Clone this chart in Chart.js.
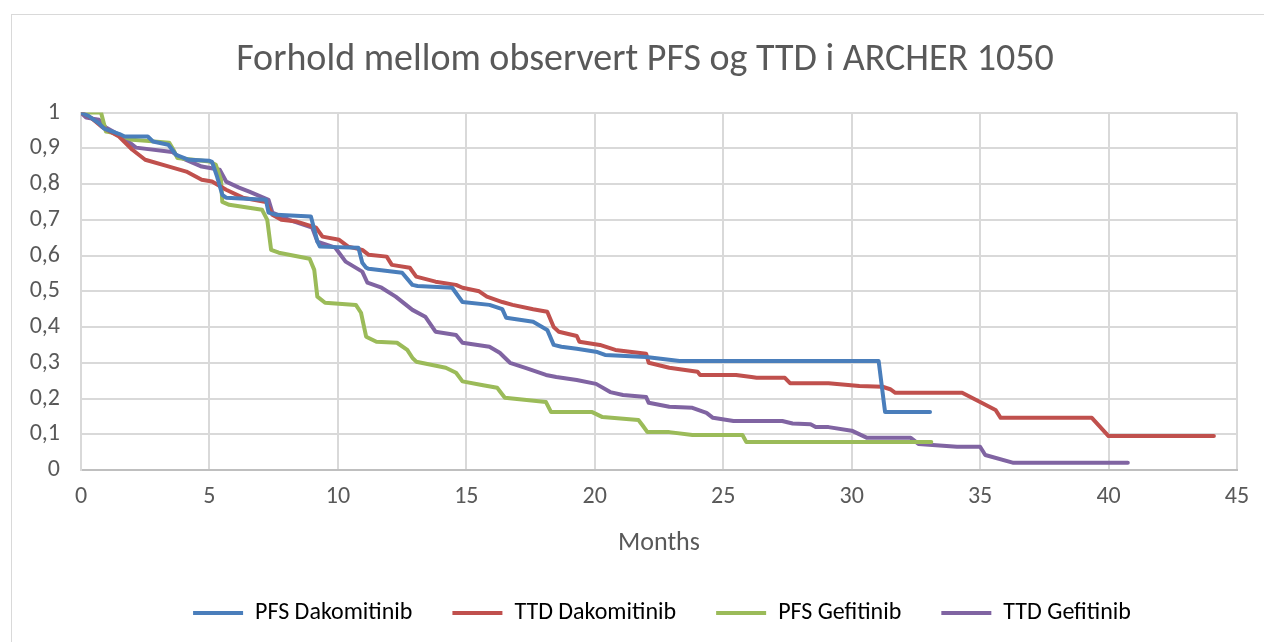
<!DOCTYPE html>
<html>
<head>
<meta charset="utf-8">
<script src="https://cdn.jsdelivr.net/npm/chart.js@4"></script>
<style>
html,body{margin:0;padding:0;background:#fff;}
#frame{position:absolute;left:11px;top:14px;width:1300px;height:700px;border:1px solid #d9d9d9;box-sizing:border-box;}
#wrap{position:absolute;left:0;top:0;width:1264px;height:642px;}
</style>
</head>
<body>
<div id="frame"></div>
<div id="wrap"><canvas id="kmChart"></canvas></div>
<script>

/* DATA */

const title="Forhold mellom observert PFS og TTD i ARCHER 1050";
const xTitle="Months";
const seriesNames=["PFS Dakomitinib","TTD Dakomitinib","PFS Gefitinib","TTD Gefitinib"];
const seriesColors=["#4a7ebb","#c0504d","#9bbb59","#8064a2"];

const pfsDakoX=[0,0.3,0.7,0.9,1.5,1.7,2.6,2.8,3.4,3.7,4.2,5.0,5.1,5.3,5.5,5.65,7.2,7.3,7.6,8.95,9.2,9.3,10.8,10.95,11.1,11.2,12.5,12.9,13.1,14.45,14.85,15.9,16.4,16.55,17.6,18.15,18.4,18.7,19.3,20.1,20.4,22,23.3,31.05,31.3,33.05];
const pfsDakoY=[1,0.99,0.97,0.955,0.94,0.933,0.933,0.919,0.91,0.882,0.868,0.865,0.862,0.82,0.77,0.762,0.756,0.72,0.714,0.709,0.64,0.625,0.622,0.58,0.566,0.563,0.552,0.518,0.515,0.51,0.47,0.462,0.45,0.426,0.415,0.392,0.35,0.345,0.339,0.33,0.322,0.316,0.305,0.305,0.162,0.162];

const ttdDakoX=[0,0.4,0.82,1.48,2,2.5,3.43,4.1,4.7,5.1,5.65,6.3,7.2,7.45,7.8,8.4,9.15,9.4,10.05,10.4,10.95,11.2,11.9,12.1,12.8,13.05,13.8,14.6,14.85,15.5,15.8,16.4,16.8,17.6,18.15,18.4,18.6,19.3,19.4,20.2,20.8,22,22.1,22.9,24,24.1,25.5,26.1,26.3,27.4,27.6,29.1,30.3,31.2,31.5,31.7,34.3,35,35.6,35.8,39.35,40,44.1];
const ttdDakoY=[1,0.985,0.96,0.933,0.896,0.868,0.849,0.835,0.812,0.807,0.784,0.762,0.75,0.714,0.70,0.695,0.678,0.653,0.644,0.625,0.616,0.602,0.597,0.574,0.566,0.541,0.527,0.518,0.51,0.5,0.485,0.47,0.462,0.45,0.443,0.40,0.387,0.375,0.359,0.35,0.336,0.325,0.30,0.286,0.275,0.266,0.266,0.26,0.258,0.258,0.243,0.243,0.235,0.233,0.226,0.216,0.216,0.19,0.168,0.146,0.146,0.095,0.095];

const pfsGefiX=[0,0.78,0.97,1.2,2,3.43,3.6,3.75,5,5.25,5.45,5.5,5.77,7.05,7.25,7.4,7.7,8.9,9.08,9.2,9.5,10.7,10.9,11.1,11.5,12.3,12.7,12.9,13.05,14.2,14.6,14.85,15.6,16.2,16.5,18.1,18.3,19.9,20.3,21.7,21.85,22.05,22.9,23.8,25.75,25.9,33.1];
const pfsGefiY=[1,1,0.947,0.944,0.924,0.916,0.896,0.873,0.863,0.854,0.812,0.75,0.742,0.728,0.70,0.616,0.608,0.591,0.56,0.485,0.468,0.462,0.44,0.373,0.359,0.356,0.336,0.314,0.303,0.286,0.272,0.248,0.238,0.23,0.202,0.19,0.162,0.162,0.148,0.14,0.126,0.106,0.106,0.098,0.098,0.078,0.078];

const ttdGefiX=[0,0.2,0.7,0.97,1.6,2.14,3.55,3.8,4.7,5.4,5.65,6.15,6.55,7.3,7.45,8.1,9.0,9.2,9.9,10.3,10.95,11.15,11.7,12.25,12.9,13.4,13.8,14.6,14.85,15.9,16.3,16.7,17.3,18.1,18.5,19.3,20.05,20.6,21.1,22,22.1,22.9,23.8,24.35,24.6,25.4,27.3,27.7,28.4,28.6,29.1,30,30.6,32.3,32.6,34.1,35,35.2,36.3,40.75];
const ttdGefiY=[1,0.986,0.98,0.958,0.933,0.902,0.89,0.877,0.849,0.84,0.807,0.79,0.779,0.756,0.72,0.70,0.678,0.639,0.622,0.583,0.555,0.524,0.51,0.485,0.448,0.429,0.387,0.378,0.356,0.345,0.328,0.30,0.286,0.266,0.26,0.252,0.241,0.218,0.21,0.204,0.188,0.177,0.174,0.16,0.146,0.137,0.137,0.13,0.128,0.12,0.12,0.11,0.09,0.09,0.073,0.065,0.065,0.042,0.02,0.02];

const xTicksStep=5;
const yTicksStep=0.1;


/* CHART */

const txt="#595959";
const fam="Carlito, Lato, 'Open Sans', sans-serif";

const pts=(xs,ys)=>xs.map((x,i)=>({x:x,y:ys[i]}));
const allX=[pfsDakoX,ttdDakoX,pfsGefiX,ttdGefiX];
const allY=[pfsDakoY,ttdDakoY,pfsGefiY,ttdGefiY];

// title and legend sit a little right of the plot centre in the original
const shiftBoxes={
id:"shiftBoxes",
afterLayout(chart){
const t=chart.titleBlock;
t.left+=24;t.right+=24;
const l=chart.legend;
l.left+=41;l.right+=41;
}
};

new Chart(document.getElementById("kmChart"),{

type:"line",

data:{
datasets:seriesNames.map((name,i)=>({
label:name,
data:pts(allX[i],allY[i]),
borderColor:seriesColors[i],
backgroundColor:seriesColors[i],
borderWidth:4,
pointRadius:0,
tension:0,
borderJoinStyle:"round",
borderCapStyle:"round"
}))
},

plugins:[shiftBoxes],

options:{
responsive:true,
maintainAspectRatio:false,
animation:false,
layout:{padding:{left:5,right:27,top:0,bottom:7}},
plugins:{
title:{
display:true,
text:title,
color:txt,
font:{family:fam,size:38,weight:"normal"},
padding:{top:38,bottom:29}
},
legend:{
position:"bottom",
labels:{
color:txt,
font:{family:fam,size:24},
boxWidth:50,
boxHeight:4,
padding:40,
generateLabels:chart=>chart.data.datasets.map((d,i)=>({
text:d.label,
fillStyle:d.borderColor,
strokeStyle:d.borderColor,
lineWidth:0,
datasetIndex:i
}))
}
},
tooltip:{enabled:false}
},
scales:{
x:{
type:"linear",
min:0,
max:45,
ticks:{stepSize:xTicksStep,color:txt,font:{family:fam,size:24},padding:13},
grid:{color:"#d9d9d9",lineWidth:2,drawTicks:false},
border:{color:"#bfbfbf",width:2},
title:{display:true,text:xTitle,color:txt,font:{family:fam,size:26},padding:{top:8,bottom:2}},
afterFit:s=>{s.height=91;}
},
y:{
min:0,
max:1,
ticks:{
stepSize:yTicksStep,
color:txt,
font:{family:fam,size:24},
padding:21,
callback:v=>String(+v.toFixed(1)).replace(".",",")
},
grid:{color:"#d9d9d9",lineWidth:2,drawTicks:false},
border:{color:"#d9d9d9",width:2},
afterFit:s=>{s.width=76;}
}
}
}

});

</script>
</body>
</html>
